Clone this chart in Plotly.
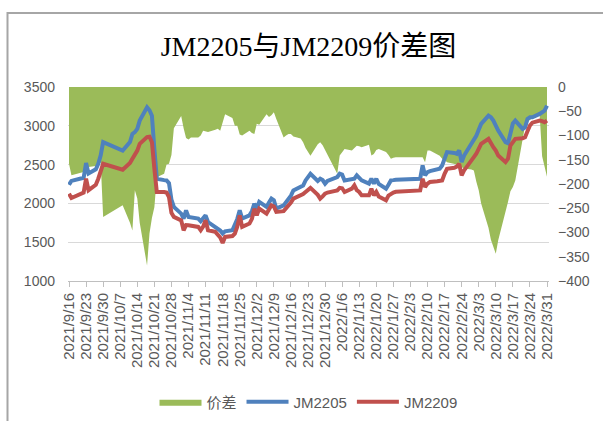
import pandas as pd
import plotly.graph_objects as go

dates = [
    "2021-09-16", "2021-09-17", "2021-09-22", "2021-09-23", "2021-09-24", "2021-09-27",
    "2021-09-28", "2021-09-29", "2021-09-30", "2021-10-08", "2021-10-11", "2021-10-12",
    "2021-10-13", "2021-10-14", "2021-10-15", "2021-10-18", "2021-10-19", "2021-10-20",
    "2021-10-21", "2021-10-22", "2021-10-25", "2021-10-26", "2021-10-27", "2021-10-28",
    "2021-10-29", "2021-11-01", "2021-11-02", "2021-11-03", "2021-11-04", "2021-11-05",
    "2021-11-08", "2021-11-09", "2021-11-10", "2021-11-11", "2021-11-12", "2021-11-15",
    "2021-11-16", "2021-11-17", "2021-11-18", "2021-11-19", "2021-11-22", "2021-11-23",
    "2021-11-24", "2021-11-25", "2021-11-26", "2021-11-29", "2021-11-30", "2021-12-01",
    "2021-12-02", "2021-12-03", "2021-12-06", "2021-12-07", "2021-12-08", "2021-12-09",
    "2021-12-10", "2021-12-13", "2021-12-14", "2021-12-15", "2021-12-16", "2021-12-17",
    "2021-12-20", "2021-12-21", "2021-12-22", "2021-12-23", "2021-12-24", "2021-12-27",
    "2021-12-28", "2021-12-29", "2021-12-30", "2021-12-31", "2022-01-04", "2022-01-05",
    "2022-01-06", "2022-01-07", "2022-01-10", "2022-01-11", "2022-01-12", "2022-01-13",
    "2022-01-14", "2022-01-17", "2022-01-18", "2022-01-19", "2022-01-20", "2022-01-21",
    "2022-01-24", "2022-01-25", "2022-01-26", "2022-01-27", "2022-01-28", "2022-02-07",
    "2022-02-08", "2022-02-09", "2022-02-10", "2022-02-11", "2022-02-14", "2022-02-15",
    "2022-02-16", "2022-02-17", "2022-02-18", "2022-02-21", "2022-02-22", "2022-02-23",
    "2022-02-24", "2022-02-25", "2022-02-28", "2022-03-01", "2022-03-02", "2022-03-03",
    "2022-03-04", "2022-03-07", "2022-03-08", "2022-03-09", "2022-03-10", "2022-03-11",
    "2022-03-14", "2022-03-15", "2022-03-16", "2022-03-17", "2022-03-18", "2022-03-21",
    "2022-03-22", "2022-03-23", "2022-03-24", "2022-03-25", "2022-03-28", "2022-03-29",
    "2022-03-30", "2022-03-31",
]

jm2205 = [
    2240, 2290, 2330, 2520, 2385, 2440, 2510, 2620, 2789, 2682, 2790, 2896,
    2918, 2960, 3067, 3239, 3200, 3130, 2700, 2318, 2300, 2296, 2260, 2050,
    1954, 1868, 1804, 1910, 1826, 1820, 1804, 1770, 1800, 1846, 1760, 1697,
    1680, 1650, 1611, 1640, 1654, 1718, 1800, 1910, 1804, 1846, 1900, 1997,
    1933, 2019, 1955, 2010, 2061, 2040, 1933, 1975, 2019, 2061, 2100, 2167,
    2210, 2230, 2296, 2330, 2382, 2290, 2318, 2300, 2254, 2290, 2340, 2382,
    2370, 2296, 2310, 2318, 2361, 2320, 2296, 2254, 2318, 2254, 2318, 2250,
    2189, 2240, 2296, 2300, 2305, 2318, 2489, 2361, 2403, 2416, 2430, 2446,
    2489, 2575, 2661, 2650, 2639, 2682, 2532, 2617, 2780, 2840, 2870, 2950,
    3025, 3131, 3110, 3067, 3000, 2939, 2789, 2775, 2900, 3030, 3067, 2960,
    2980, 3089, 3110, 3110, 3153, 3175, 3196, 3260,
]

jm2209 = [
    2125, 2070, 2140, 2318, 2170, 2240, 2318, 2400, 2510, 2434, 2520, 2575,
    2617, 2680, 2768, 2854, 2860, 2789, 2450, 2147, 2147, 2140, 2080, 1880,
    1826, 1782, 1653, 1720, 1718, 1710, 1697, 1654, 1700, 1782, 1654, 1633,
    1600, 1560, 1491, 1568, 1580, 1611, 1700, 1846, 1697, 1740, 1800, 1933,
    1846, 1933, 1868, 1920, 1975, 1960, 1890, 1900, 1933, 1975, 2010, 2061,
    2104, 2120, 2147, 2170, 2200, 2110, 2061, 2090, 2125, 2140, 2167, 2200,
    2195, 2147, 2190, 2232, 2170, 2147, 2104, 2104, 2189, 2104, 2150, 2090,
    2040, 2100, 2125, 2140, 2150, 2167, 2318, 2211, 2254, 2275, 2285, 2296,
    2296, 2382, 2446, 2460, 2475, 2510, 2360, 2425, 2540, 2597, 2639, 2700,
    2768, 2832, 2789, 2725, 2680, 2617, 2532, 2575, 2746, 2789, 2832, 2840,
    2853, 2930, 3003, 3040, 3067, 3060, 3046, 3067,
]

spread = [
    -158, -182, -175, -160, -165, -163, -160, -155, -268, -244, -280, -296,
    -213, -230, -280, -368, -302, -270, -248, -186, -179, -160, -158, -140,
    -85, -60, -85, -105, -108, -104, -104, -100, -90, -92, -93, -88,
    -86, -90, -70, -56, -64, -80, -80, -98, -100, -90, -95, -97,
    -76, -78, -56, -62, -58, -52, -66, -104, -100, -97, -97, -102,
    -106, -114, -126, -134, -142, -118, -114, -120, -130, -141, -179, -141,
    -135, -128, -131, -125, -121, -122, -124, -119, -141, -138, -130, -128,
    -134, -140, -148, -146, -145, -145, -145, -155, -131, -131, -138, -142,
    -148, -150, -155, -158, -160, -163, -165, -168, -170, -172, -195, -213,
    -240, -290, -315, -330, -344, -316, -260, -237, -215, -206, -193, -110,
    -80, -72, -68, -64, -58, -143, -164, -185,
]

left_ticks = [1000, 1500, 2000, 2500, 3000, 3500]
right_ticks = [-400, -350, -300, -250, -200, -150, -100, -50, 0]

W, H = 603, 421
L, R, T, B = 68, 54, 87, 140
PW, PH = W - L - R, H - T - B

def px(x):
    return (x - L) / PW

def py(y):
    return (H - B - y) / PH

x_dates = pd.to_datetime(dates)
day_px = 478 / 196.0
x0 = pd.Timestamp("2021-09-16") - pd.Timedelta(days=1 / day_px)
x1 = pd.Timestamp("2022-03-31") + pd.Timedelta(days=2 / day_px)

GREEN = "#9BBB59"
BLUE = "#4F81BD"
RED = "#C0504D"
TXT = "#595959"
FONT = "Liberation Sans, Arial, sans-serif"

fig = go.Figure()
fig.add_trace(go.Scatter(
    x=x_dates, y=spread, name="价差", yaxis="y", mode="lines",
    fill="tozeroy", fillcolor=GREEN, line=dict(width=0, color=GREEN),
))
fig.add_trace(go.Scatter(
    x=x_dates, y=jm2205, name="JM2205", yaxis="y2", mode="lines",
    line=dict(width=4, color=BLUE),
))
fig.add_trace(go.Scatter(
    x=x_dates, y=jm2209, name="JM2209", yaxis="y2", mode="lines",
    line=dict(width=4, color=RED),
))

fig.update_layout(
    width=W, height=H,
    margin=dict(l=L, r=R, t=T, b=B),
    paper_bgcolor="white", plot_bgcolor="white",
    showlegend=True,
    title=dict(
        text="JM2205与JM2209价差图", x=0.5, xref="paper", xanchor="center",
        y=1 - 46 / H, yref="container", yanchor="middle",
        font=dict(family="Liberation Serif, Noto Sans CJK SC, serif", size=28, color="black"),
    ),
    xaxis=dict(
        type="date", range=[x0, x1],
        tick0="2021-09-16", dtick=7 * 86400000, tickformat="%Y/%-m/%-d",
        tickangle=-90, ticks="outside", ticklen=5, tickcolor="#bfbfbf",
        showline=True, linecolor="#bfbfbf", showgrid=False, zeroline=False,
        tickfont=dict(family=FONT, size=15, color=TXT),
    ),
    yaxis=dict(
        side="right", range=[-400, 0], tickvals=right_ticks,
        showgrid=False, zeroline=False, showline=False,
        ticklabelstandoff=8,
        tickfont=dict(family=FONT, size=14, color=TXT),
    ),
    yaxis2=dict(
        side="left", overlaying="y", range=[1000, 3500], tickvals=left_ticks,
        showgrid=True, gridcolor="#d9d9d9", gridwidth=1, zeroline=False, showline=False,
        ticklabelstandoff=12,
        tickfont=dict(family=FONT, size=14, color=TXT),
    ),
    legend=dict(
        orientation="h", x=0.5, xref="paper", xanchor="center",
        y=1 - 402 / H, yref="container", yanchor="middle",
        itemwidth=42,
        font=dict(family=FONT + ", Noto Sans CJK SC", size=15, color=TXT),
        bgcolor="rgba(0,0,0,0)",
    ),
    shapes=[
        dict(type="line", xref="paper", yref="paper", x0=px(7), x1=px(W), y0=py(13), y1=py(13),
             line=dict(color="#a6a6a6", width=2)),
        dict(type="line", xref="paper", yref="paper", x0=px(7.5), x1=px(7.5), y0=py(12), y1=py(H),
             line=dict(color="#a6a6a6", width=2)),
    ],
)

fig.write_html(
    "out.html",
    config={"displayModeBar": False},
    post_script="document.body.style.margin='0';document.body.style.overflow='hidden';",
)
